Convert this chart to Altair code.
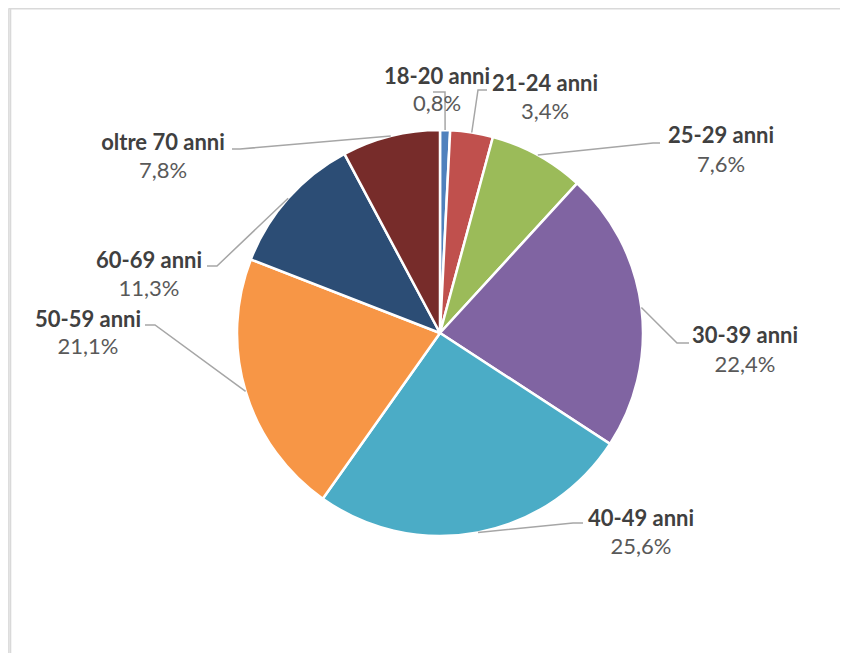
import altair as alt
import pandas as pd
import numpy as np

# ---- data ----
categories = ["18-20 anni", "21-24 anni", "25-29 anni", "30-39 anni",
              "40-49 anni", "50-59 anni", "60-69 anni", "oltre 70 anni"]
shares = [0.8, 3.4, 7.6, 22.4, 25.6, 21.1, 11.3, 7.8]
colors = ["#4F81BD", "#C0504D", "#9BBB59", "#8064A2",
          "#4BACC6", "#F79646", "#2C4D75", "#772C2A"]

# ---- layout (pixels in chart coordinates) ----
W, H = 832, 645
CX, CY, R = 432, 325, 203
label_x = [429, 537, 713, 737, 633, 80, 141, 155]
name_y = [69, 76, 128, 328, 511, 312, 253, 135]
pct_y = [96, 104, 157, 357, 539, 339, 281, 163]
elbows = [(437, 84), (470, 82), (645, 135), (669, 335),
          (565, 515), (147, 317), (209, 258), (232, 141)]
ends = [(425, 84), (479, 82), (652, 135), (681, 335),
        (575, 515), (137, 317), (199, 258), (224, 141)]

df = pd.DataFrame({"cat": categories, "val": shares, "ord": range(len(categories))})
df["pct"] = [f"{v:.1f}".replace(".", ",") + "%" for v in shares]
df["lx"] = label_x
df["ny"] = name_y
df["py"] = pct_y

# leader lines: start on the slice edge at its mid angle
cum = np.cumsum(shares)
mid = (cum - np.array(shares) / 2) / cum[-1] * 2 * np.pi
rows = []
for i, c in enumerate(categories):
    sx = CX + R * np.sin(mid[i])
    sy = CY - R * np.cos(mid[i])
    pts = [(sx, sy), elbows[i], ends[i]]
    for j, (px, py) in enumerate(pts):
        rows.append({"cat": c, "k": j, "x": px, "y": py})
lines = pd.DataFrame(rows)

color_scale = alt.Scale(domain=categories, range=colors)
one = pd.DataFrame({"a": [0]})

frame_top = alt.Chart(one).mark_rule(color="#D9D9D9", strokeWidth=2).encode(
    x=alt.value(1.3), x2=alt.value(W + 60), y=alt.value(0.5)
)
frame_left = alt.Chart(one).mark_rule(color="#D9D9D9", strokeWidth=2).encode(
    x=alt.value(2.3), y=alt.value(0), y2=alt.value(H + 60)
)

pie = alt.Chart(df).mark_arc(outerRadius=R, stroke="white", strokeWidth=2.5).encode(
    theta=alt.Theta("val:Q", stack=True),
    order=alt.Order("ord:Q", sort="ascending"),
    color=alt.Color("cat:N", scale=color_scale, legend=None),
    x=alt.value(CX),
    y=alt.value(CY),
)

leaders = alt.Chart(lines).mark_line(color="#A6A6A6", strokeWidth=1.5).encode(
    x=alt.X("x:Q", scale=None, axis=None),
    y=alt.Y("y:Q", scale=None, axis=None),
    detail="cat:N",
    order="k:Q",
)

names = alt.Chart(df).mark_text(
    font="Lato", fontSize=22, fontWeight="bold", color="#404040", baseline="middle"
).encode(
    x=alt.X("lx:Q", scale=None, axis=None),
    y=alt.Y("ny:Q", scale=None, axis=None),
    text="cat:N",
)

pcts = alt.Chart(df).mark_text(
    font="Lato", fontSize=22, color="#595959", baseline="middle"
).encode(
    x=alt.X("lx:Q", scale=None, axis=None),
    y=alt.Y("py:Q", scale=None, axis=None),
    text="pct:N",
)

chart = alt.layer(frame_top, frame_left, pie, leaders, names, pcts).properties(
    width=W, height=H, padding=0, autosize=alt.AutoSizeParams(type="none")
).configure_view(stroke=None).configure(background="white")

chart.save("out.html", embed_options={"renderer": "svg", "actions": False})
